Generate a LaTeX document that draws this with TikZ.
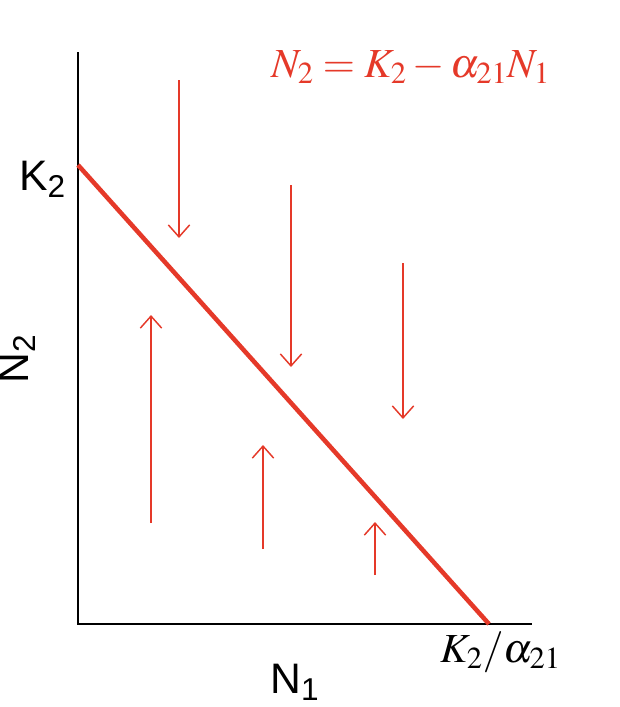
\documentclass[tikz,border=0pt]{standalone}
\usepackage{mathptmx}
\usepackage[no-math]{fontspec}
\setmainfont{Liberation Sans}
\usetikzlibrary{arrows.meta}
\definecolor{isored}{RGB}{229,57,41}
\tikzset{
  flow/.style={draw=isored, line width=1.1pt, -{Straight Barb[length=9pt,width=16pt,line width=1.1pt]}},
  axis/.style={draw=black, line width=1.4pt},
  lab/.style={inner sep=0pt, font=\fontsize{32}{38}\selectfont},
  mlab/.style={inner sep=0pt, font=\fontsize{31}{38}\selectfont}
}
\begin{document}
\begin{tikzpicture}[x=0.75pt,y=-0.75pt]
\useasboundingbox (0,0) rectangle (619,707);
% axes
\coordinate (origin) at (78,624);
\coordinate (ytop) at (78,52);
\coordinate (xend) at (532,624);
\draw[axis] (ytop) -- (origin) -- (xend);
% isocline
\coordinate (k2) at (78,165);
\coordinate (k2a) at (489,624);
\draw[isored, line width=3.4pt] (k2) -- (k2a);
% arrows
\coordinate (d1a) at (179,80);  \coordinate (d1b) at (179,238);
\coordinate (d2a) at (291,185); \coordinate (d2b) at (291,367);
\coordinate (d3a) at (403,263); \coordinate (d3b) at (403,419);
\coordinate (u1a) at (151,523); \coordinate (u1b) at (151,315);
\coordinate (u2a) at (263,549); \coordinate (u2b) at (263,445);
\coordinate (u3a) at (375,575); \coordinate (u3b) at (375,522);
\draw[flow] (d1a) -- (d1b);
\draw[flow] (d2a) -- (d2b);
\draw[flow] (d3a) -- (d3b);
\draw[flow] (u1a) -- (u1b);
\draw[flow] (u2a) -- (u2b);
\draw[flow] (u3a) -- (u3b);
% labels
\node[lab, anchor=base west] (lk2) at (19,190) {K\textsubscript{2}};
\node[lab, anchor=base west] (ln1) at (270,693) {N\textsubscript{1}};
\node[lab, anchor=base, rotate=90] (ln2) at (28,359) {N\textsubscript{2}};
\node[mlab, anchor=base west, text=isored] (eq) at (271,77) {$N_2 = K_2 - \alpha_{21}N_1$};
\node[mlab, anchor=base west] (lk2a) at (440,662) {$K_2/\alpha_{21}$};
\end{tikzpicture}
\end{document}
